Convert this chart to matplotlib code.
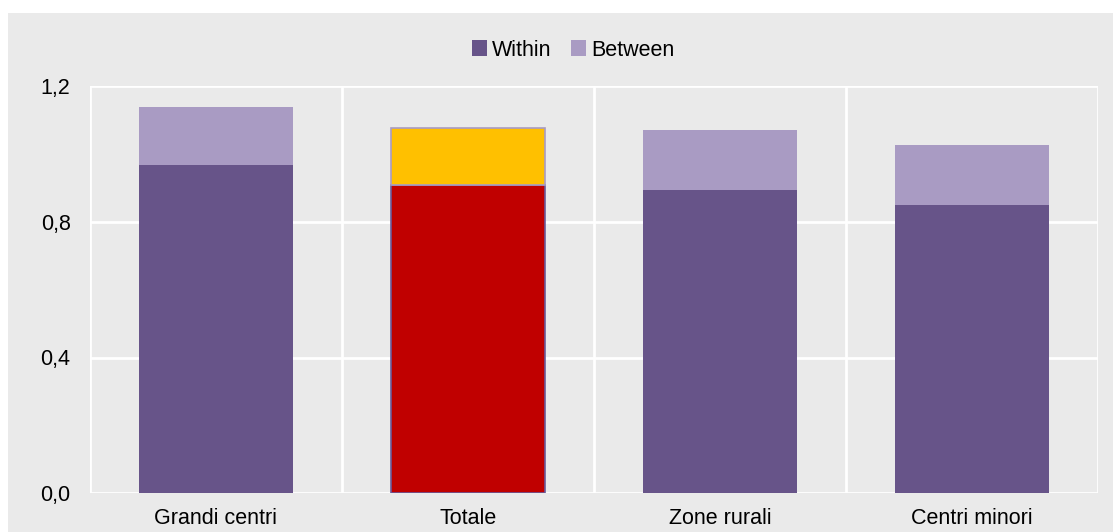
import matplotlib.pyplot as plt
from matplotlib.patches import Rectangle, Patch
from matplotlib.ticker import FixedLocator

# ─── Dati ─────────────────────────────────────────────────────────────────────
categorie = ["Grandi centri", "Totale", "Zone rurali", "Centri minori"]
within    = [0.968, 0.908, 0.894, 0.850]
between   = [0.172, 0.170, 0.177, 0.176]
y_ticks   = [0.0, 0.4, 0.8, 1.2]
y_labels  = ["0,0", "0,4", "0,8", "1,2"]

# ─── Colori ───────────────────────────────────────────────────────────────────
BG        = "#EAEAEA"
WITHIN    = "#675489"
BETWEEN   = "#A99BC3"
TOT_WITH  = "#C00000"
TOT_BETW  = "#FFC000"

W, H, DPI = 1113, 532, 100
plt.rcParams["font.family"] = ["Liberation Sans", "DejaVu Sans"]

fig = plt.figure(figsize=(W / DPI, H / DPI), dpi=DPI)
fig.patch.set_facecolor("white")
fig.add_artist(Rectangle((8 / W, 0), 1 - 8 / W, 1 - 13 / H,
                         transform=fig.transFigure, facecolor=BG,
                         edgecolor="none", zorder=0))

ax = fig.add_axes([90 / W, (H - 493) / H, (1098 - 90) / W, (493 - 86.5) / H])
ax.set_facecolor(BG)
ax.set_zorder(1)

x = list(range(len(categorie)))
col_w = [TOT_WITH if c == "Totale" else WITHIN for c in categorie]
col_b = [TOT_BETW if c == "Totale" else BETWEEN for c in categorie]
edge_w = ["#6A5A9A" if c == "Totale" else "none" for c in categorie]
edge_b = [BETWEEN if c == "Totale" else "none" for c in categorie]

ax.bar(x, within, width=0.61, color=col_w, edgecolor=edge_w, linewidth=1.2, zorder=3)
ax.bar(x, between, width=0.61, bottom=within, color=col_b,
       edgecolor=edge_b, linewidth=1.2, zorder=3)

ax.set_xlim(-0.5, len(categorie) - 0.5)
ax.set_ylim(0, 1.2)
ax.set_yticks(y_ticks)
ax.set_yticklabels(y_labels)
ax.set_xticks(x)
ax.set_xticklabels(categorie)
ax.xaxis.set_minor_locator(FixedLocator([i - 0.5 for i in range(len(categorie) + 1)]))

ax.grid(True, axis="y", which="major", color="white", lw=2, zorder=1)
ax.grid(True, axis="x", which="minor", color="white", lw=2, zorder=1)
ax.grid(False, axis="x", which="major")
for s in ax.spines.values():
    s.set_visible(False)
ax.tick_params(axis="both", which="both", length=0, labelsize=15.5, colors="black")
ax.tick_params(axis="y", pad=14)
ax.tick_params(axis="x", pad=11)

handles = [Patch(facecolor=WITHIN, label="Within"),
           Patch(facecolor=BETWEEN, label="Between")]
fig.legend(handles=handles, loc="center", bbox_to_anchor=(0.515, (H - 50) / H),
           ncol=2, frameon=False, fontsize=15.5, handlelength=0.7, handleheight=0.7,
           handletextpad=0.25, columnspacing=0.9)

fig.savefig("out.png", dpi=DPI, facecolor="white")
